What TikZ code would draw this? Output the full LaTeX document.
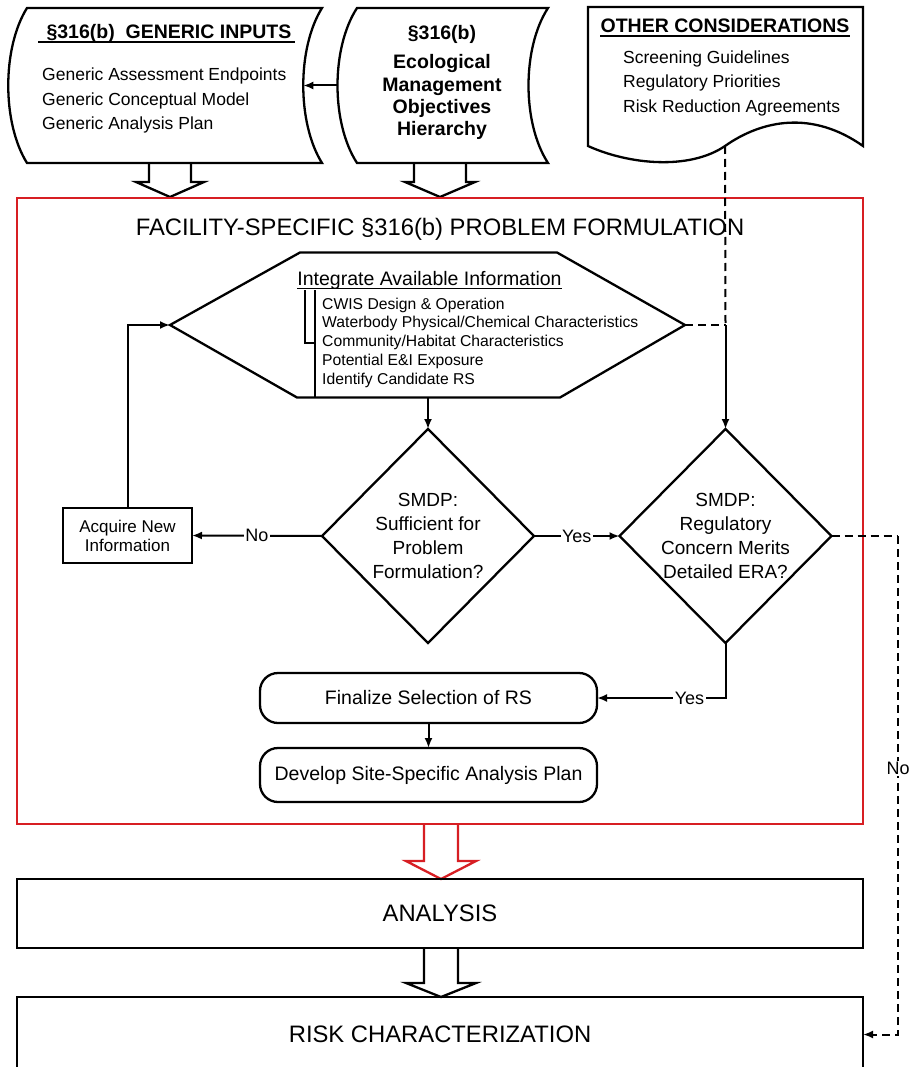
\documentclass[tikz,border=0pt]{standalone}
\usepackage{fontspec}
\setmainfont{Liberation Sans}
\usetikzlibrary{shapes.geometric,arrows.meta}
\definecolor{redline}{RGB}{215,30,35}
\begin{document}
\begin{tikzpicture}[x=1pt,y=-1pt,
  shp/.style={line width=2.3pt, line join=miter},
  ghost/.style={inner sep=0pt, outer sep=0pt},
  box/.style={draw, line width=2.3pt, inner sep=0pt, outer sep=0pt},
  dia/.style={diamond, draw, line width=2.3pt, inner sep=0pt, outer sep=0pt, minimum width=212pt, minimum height=214pt},
  arr/.style={line width=2pt, -{Latex[length=10pt,width=8pt]}},
  dsh/.style={line width=2pt, dash pattern=on 8pt off 5pt},
  lab/.style={fill=white, inner sep=1.5pt, font=\fontsize{18}{20}\selectfont},
  blk/.style={line width=2.3pt, line join=miter},
  item/.style={anchor=base west, inner sep=0pt, font=\fontsize{17.5}{20}\selectfont},
  hitem/.style={anchor=base west, inner sep=0pt, font=\fontsize{15.7}{18}\selectfont},
  btitle/.style={anchor=base, inner sep=0pt, font=\fontsize{19.5}{22}\bfseries\selectfont},
  bigtxt/.style={font=\fontsize{23.8}{28}\selectfont},
  dtxt/.style={align=center, font=\fontsize{19}{24}\selectfont}
]
\useasboundingbox (0,0) rectangle (909,1067);
\fill[white] (0,0) rectangle (909,1067);

% ---------- Generic inputs ----------
\node[ghost, minimum width=295pt, minimum height=155pt] (gen) at (174.5,85.5) {};
\draw[shp] (gen.north west) -- (gen.north east) .. controls +(-25,40) and +(-25,-40) .. (gen.south east)
  -- (gen.south west) .. controls +(-25,-40) and +(-25,40) .. cycle;
\node[btitle] (gt) at (169,39) {§316(b)\ \ GENERIC INPUTS};
\draw[line width=1.8pt] ([xshift=-8pt,yshift=-3pt]gt.base west) -- ([xshift=3pt,yshift=-3pt]gt.base east);
\node[item] (g1) at (42,81) {Generic Assessment Endpoints};
\node[item] (g2) at (42,106) {Generic Conceptual Model};
\node[item] (g3) at (42,130) {Generic Analysis Plan};
\draw[blk] (149,163) -- (149,182) -- (136,182) -- (170,197) -- (204,182) -- (191,182) -- (191,163);

% ---------- Ecological objectives ----------
\node[ghost, minimum width=191pt, minimum height=155pt] (eco) at (452.5,85.5) {};
\draw[shp] (eco.north west) -- (eco.north east) .. controls +(-26,40) and +(-26,-40) .. (eco.south east)
  -- (eco.south west) .. controls +(-26,-40) and +(-26,40) .. cycle;
\node[btitle] (e1) at (442,40) {§316(b)};
\node[btitle] (e2) at (442,69) {Ecological};
\node[btitle] (e3) at (442,92) {Management};
\node[btitle] (e4) at (442,114) {Objectives};
\node[btitle] (e5) at (442,136) {Hierarchy};
\draw[blk] (414,163) -- (414,182) -- (405,182) -- (440,197) -- (475,182) -- (466,182) -- (466,163);
\draw[arr] ([xshift=-19.5pt]eco.west) -- ([xshift=-18.75pt]gen.east);

% ---------- Other considerations ----------
\node[ghost, minimum width=275pt, minimum height=139pt] (oth) at (725.5,76.5) {};
\draw[shp] (oth.south east) -- (oth.north east) -- (oth.north west) -- (oth.south west)
  .. controls (630,165) and (690,170) .. (725,146) .. controls (762,120) and (812,110) .. cycle;
\coordinate (othw) at (725,146);
\node[btitle] (ot) at (725,33) {OTHER CONSIDERATIONS};
\draw[line width=1.8pt] ([yshift=-3pt]ot.base west) -- ([yshift=-3pt]ot.base east);
\node[item] (o1) at (623,64) {Screening Guidelines};
\node[item] (o2) at (623,88) {Regulatory Priorities};
\node[item] (o3) at (623,113) {Risk Reduction Agreements};

% ---------- Problem formulation frame ----------
\node[draw=redline, line width=2.3pt, inner sep=0pt, minimum width=846pt, minimum height=626pt] (pf) at (440,511) {};
\node[anchor=base, inner sep=0pt, bigtxt] (pft) at (440,236) {FACILITY-SPECIFIC §316(b) PROBLEM FORMULATION};

% hexagon
\node[ghost, minimum width=515pt, minimum height=145pt] (hex) at (427.5,325) {};
\draw[shp] (hex.west) -- ([xshift=130pt]hex.north west) -- ([xshift=-128pt]hex.north east) -- (hex.east)
  -- ([xshift=-125pt]hex.south east) -- ([xshift=127pt]hex.south west) -- cycle;
\node[anchor=base, inner sep=0pt, font=\fontsize{19.5}{22}\selectfont] (hh) at (429.5,285) {Integrate Available Information};
\draw[line width=1.8pt] ([yshift=-3.5pt]hh.base west) -- ([yshift=-3.5pt]hh.base east);
\node[hitem] (h1) at (322,309) {CWIS Design \& Operation};
\node[hitem] (h2) at (322,327.5) {Waterbody Physical/Chemical Characteristics};
\node[hitem] (h3) at (322,346) {Community/Habitat Characteristics};
\node[hitem] (h4) at (322,365) {Potential E\&I Exposure};
\node[hitem] (h5) at (322,384) {Identify Candidate RS};
\draw[line width=1.3pt] (315,290) -- (315,397.5);
\draw[line width=1.3pt] (305,290) -- (305,343) -- (315,343);

% decisions
\node[dia] (d1) at (428,536) {};
\node[dtxt] (d1t) at (d1) {SMDP:\\Sufficient for\\Problem\\Formulation?};
\node[dia] (d2) at (725.5,536) {};
\node[dtxt] (d2t) at (d2) {SMDP:\\Regulatory\\Concern Merits\\Detailed ERA?};

\node[box, minimum width=129pt, minimum height=55pt, align=center, font=\fontsize{17}{19}\selectfont] (acq) at (127.5,535.5) {Acquire New\\Information};

\node[box, rounded corners=18pt, minimum width=337pt, minimum height=50pt, font=\fontsize{19.5}{22}\selectfont] (fin) at (428.5,698) {Finalize Selection of RS};
\node[box, rounded corners=18pt, minimum width=337pt, minimum height=54pt, font=\fontsize{19.5}{22}\selectfont] (dev) at (428.5,775) {Develop Site-Specific Analysis Plan};

% connectors inside
\draw[arr] (d1.north |- hex.south) -- (d1.north);
\draw[arr] (d1.west) -- node[lab] {No} (acq.east);
\draw[arr] (d1.east) -- node[lab] {Yes} (d2.west);
\draw[arr] (acq.north) |- (hex.west);
\draw[arr] (d2.south) |- node[lab, pos=0.64] {Yes} (fin.east);
\draw[arr] (fin.south) -- (dev.north);
\coordinate (j) at (d2.north |- hex.east);
\draw[dsh] (othw) -- (j);
\draw[dsh] (hex.east) -- (j);
\draw[arr] (j) -- (d2.north);

% ---------- Analysis & risk ----------
\draw[blk, draw=redline] (424,825) -- (424,861) -- (406,861) -- (441,879) -- (476,861) -- (458,861) -- (458,825);
\node[box, minimum width=846pt, minimum height=69pt, bigtxt] (ana) at (440,913.5) {ANALYSIS};
\draw[blk] (424,948) -- (424,983) -- (406,983) -- (441,997) -- (476,983) -- (458,983) -- (458,948);
\node[box, minimum width=846pt, minimum height=75pt, bigtxt] (risk) at (440,1034.5) {RISK CHARACTERIZATION};

\coordinate (nc) at (898,536);
\draw[dsh] (d2.east) -- (nc);
\draw[dsh, -{Latex[length=10pt,width=8pt]}] (nc) |- node[lab, pos=0.233] {No} (risk.east);
\end{tikzpicture}
\end{document}
